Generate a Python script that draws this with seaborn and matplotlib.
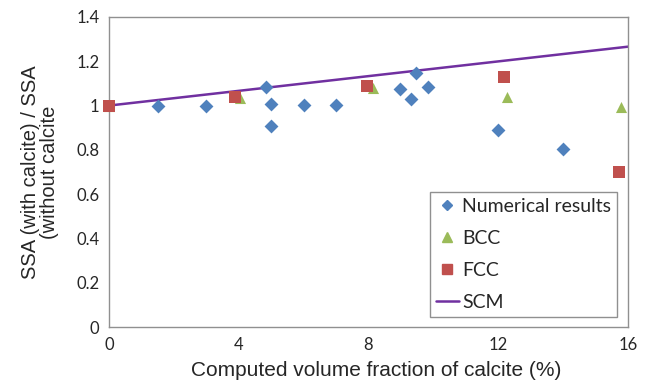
import matplotlib
matplotlib.use("Agg")
import matplotlib.pyplot as plt
import seaborn as sns
import pandas as pd
from matplotlib.lines import Line2D

num_x = [1.5, 3.0, 4.83, 5.0, 5.0, 6.0, 7.0, 8.96, 9.45, 9.31, 9.83, 12.0, 14.0]
num_y = [1.0, 1.0, 1.084, 1.006, 0.908, 1.003, 1.003, 1.074, 1.147, 1.028, 1.086, 0.891, 0.804]
bcc_x = [0.0, 4.04, 8.15, 12.26, 15.77]
bcc_y = [1.0, 1.035, 1.078, 1.037, 0.995]
fcc_x = [0.0, 3.88, 7.94, 12.18, 15.71]
fcc_y = [1.0, 1.040, 1.087, 1.131, 0.699]
scm_x = [0.0, 16.0]
scm_y = [1.0, 1.266]

x_ticks = [0, 4, 8, 12, 16]
y_ticks = [0, 0.2, 0.4, 0.6, 0.8, 1.0, 1.2, 1.4]
y_tick_labels = ["0", "0.2", "0.4", "0.6", "0.8", "1", "1.2", "1.4"]

C_NUM = "#4F81BD"
C_BCC = "#9BBB59"
C_FCC = "#C0504D"
C_SCM = "#7030A0"

sns.set_style("white")
plt.rcParams["font.family"] = ["Liberation Sans", "DejaVu Sans"]

fig = plt.figure(figsize=(6.48, 3.87), dpi=100)
ax = fig.add_axes([109/648, 1 - 327/387, (628-109)/648, (327-17)/387])

sns.lineplot(x=scm_x, y=scm_y, ax=ax, color=C_SCM, linewidth=1.8, zorder=2)
for xs, ys, mk, sz, col, z in [(num_x, num_y, "D", 50, C_NUM, 3),
                               (bcc_x, bcc_y, "^", 64, C_BCC, 3),
                               (fcc_x, fcc_y, "s", 80, C_FCC, 4)]:
    sns.scatterplot(x=xs, y=ys, ax=ax, marker=mk, s=sz, color=col,
                    edgecolor=col, linewidth=0, zorder=z, clip_on=False)

ax.set_xlim(0, 16)
ax.set_ylim(0, 1.4)
ax.set_xticks(x_ticks)
ax.set_xticklabels([str(t) for t in x_ticks], family=["Lato", "DejaVu Sans"], fontsize=12)
ax.set_yticks(y_ticks)
ax.set_yticklabels(y_tick_labels, family=["Lato", "DejaVu Sans"], fontsize=12)
ax.tick_params(direction="in", length=4, width=0.8, color="#808080", pad=7)
for sp in ax.spines.values():
    sp.set_color("#909090")
    sp.set_linewidth(1.0)

ax.set_xlabel("Computed volume fraction of calcite (%)", fontsize=15)
ax.xaxis.set_label_coords((376 - 109) / 519, (327 - 371) / 310, transform=ax.transAxes)
ax.xaxis.label.set_va("center")
ax.set_ylabel("SSA (with calcite) / SSA\n(without calcite", fontsize=14.5, labelpad=12,
              linespacing=1.05)

handles = [
    Line2D([], [], marker="D", color=C_NUM, linestyle="none", markersize=5.5),
    Line2D([], [], marker="^", color=C_BCC, linestyle="none", markersize=6.5),
    Line2D([], [], marker="s", color=C_FCC, linestyle="none", markersize=6.5),
    Line2D([], [], color=C_SCM, linewidth=1.8),
]
leg = ax.legend(handles, ["Numerical results", "BCC", "FCC", "SCM"],
                loc="lower right", bbox_to_anchor=(0.9785, 0.032),
                prop={"family": ["Lato", "DejaVu Sans"], "size": 14},
                frameon=True, fancybox=False, edgecolor="#909090",
                handlelength=1.2, handletextpad=0.15, labelspacing=0.78,
                borderpad=0.3, borderaxespad=0, framealpha=1)
leg.get_frame().set_linewidth(1.0)

fig.savefig("out.png", dpi=100)
